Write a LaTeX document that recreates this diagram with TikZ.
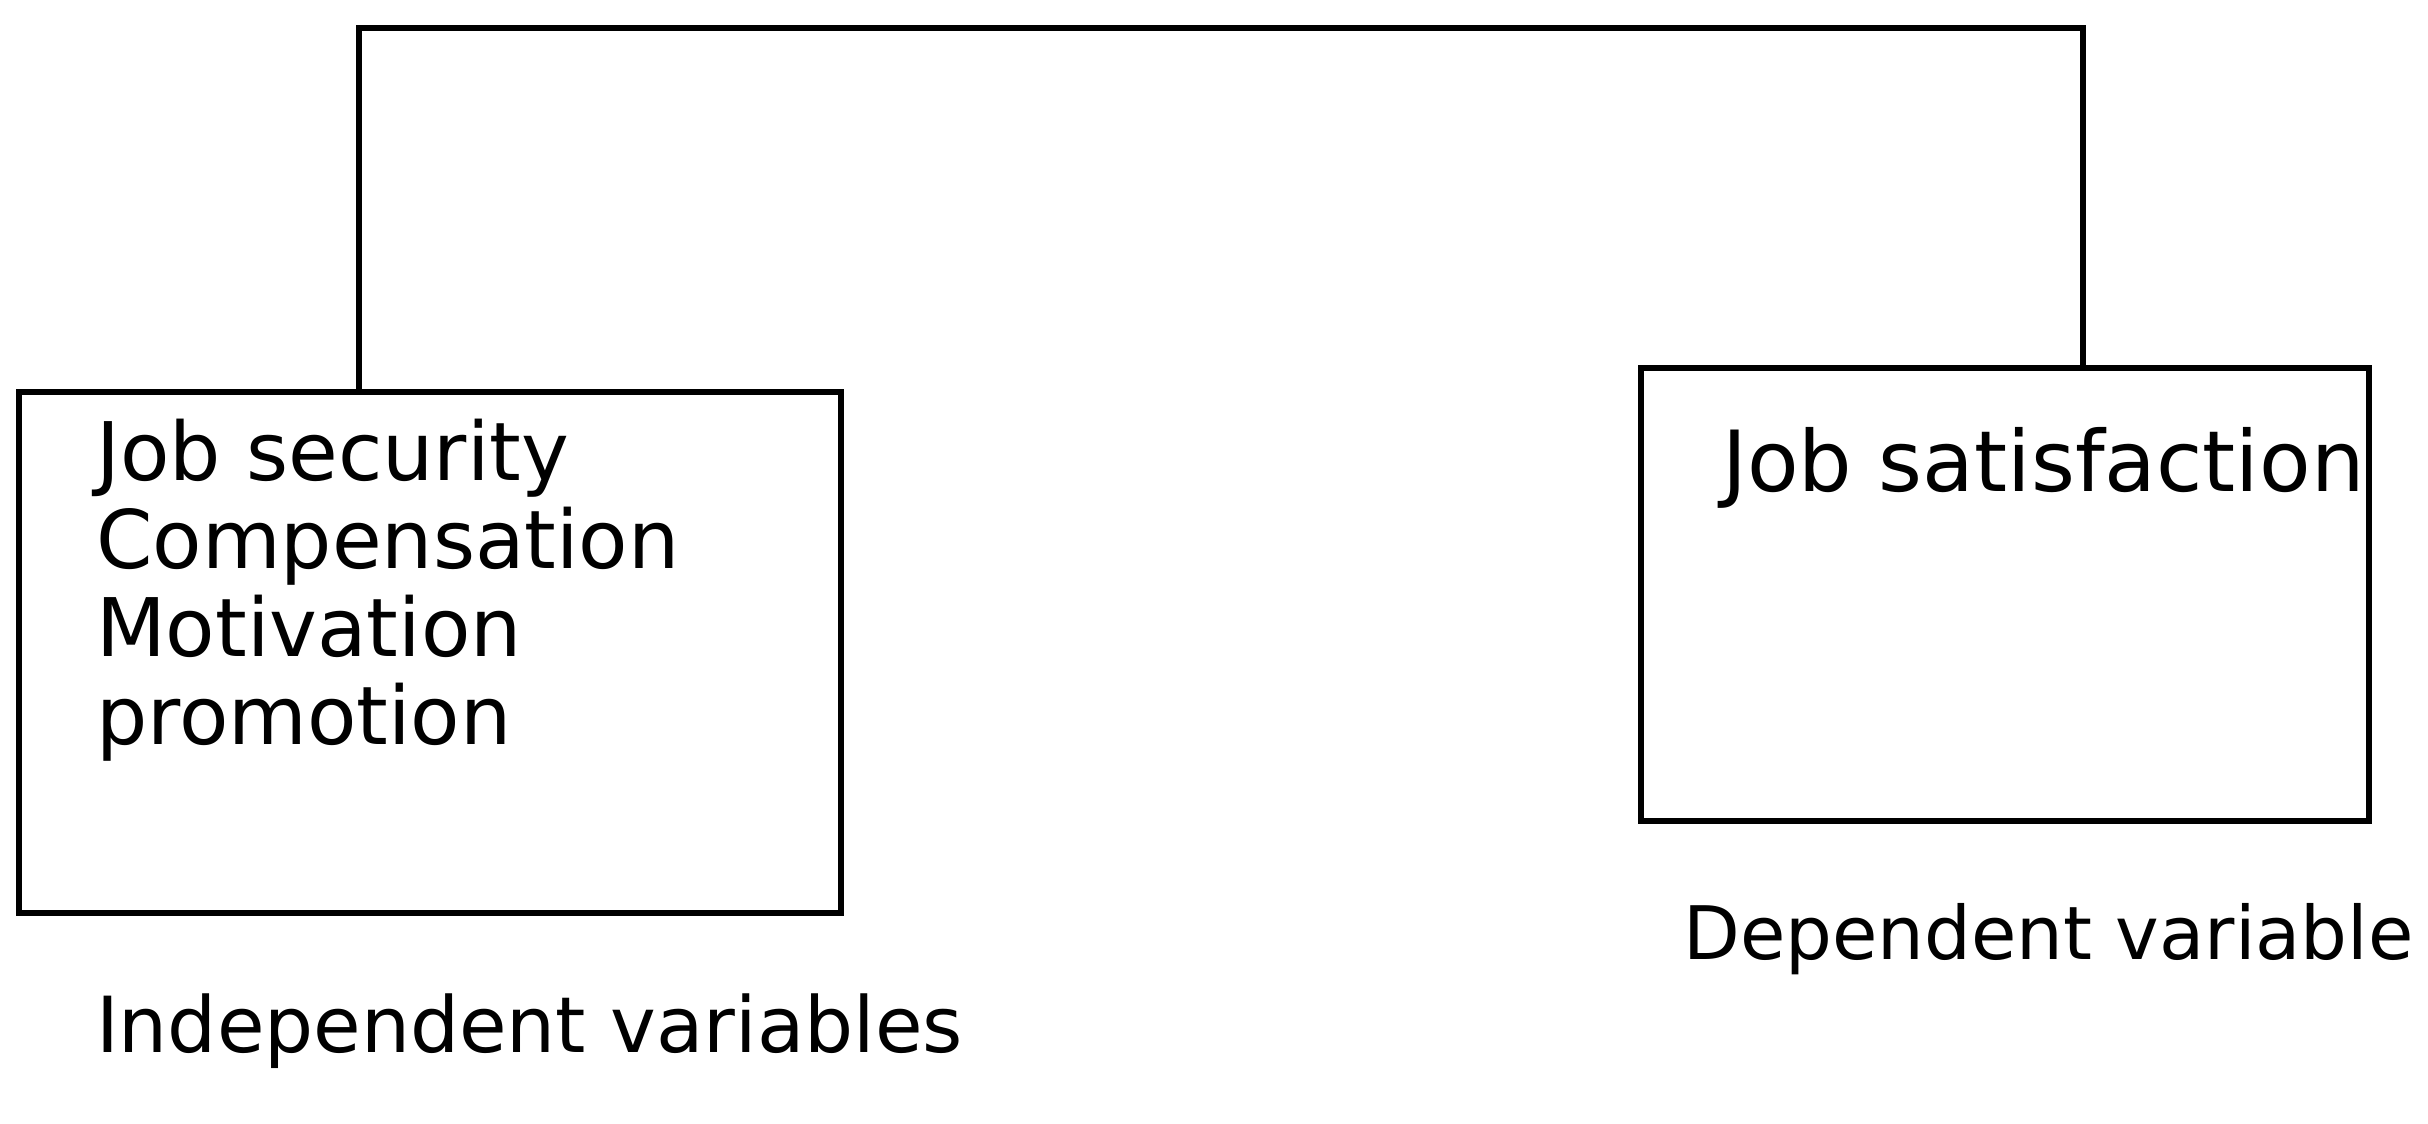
\documentclass[tikz,border=0pt]{standalone}
\usepackage{fontspec}
\setmainfont{DejaVu Sans}
\begin{document}
\begin{tikzpicture}[
    line width=1.8pt,
    every node/.style={inner sep=0pt},
    varbox/.style={draw, rectangle, line width=1.8pt},
    boxtext/.style={font=\fontsize{23}{25}\selectfont, align=left},
    caption/.style={font=\fontsize{22}{26}\selectfont},
  ]
    \useasboundingbox (0,0) rectangle (24.28,11.24);
    %% Boxes
    \node[varbox, minimum width=8.22cm, minimum height=5.21cm] (indep) at (4.30,4.715) {};
    \node[varbox, minimum width=7.28cm, minimum height=4.53cm] (dep) at (20.05,5.295) {};
    %% Box texts
    \node[boxtext, anchor=north west] (indeplist) at (0.93,7.08)
      {Job security\\Compensation\\Motivation\\promotion};
    \node[boxtext, font=\fontsize{24}{26}\selectfont, anchor=base west] (deptext) at (17.19,6.32)
      {Job satisfaction};
    %% Captions
    \node[caption, anchor=base west] (indepcap) at (0.93,0.71) {Independent variables};
    \node[caption, font=\fontsize{21}{25}\selectfont, anchor=base west] (depcap) at (16.80,1.64) {Dependent variable};
    %% Top connector
    \coordinate (topleft) at (3.59,10.96);
    \coordinate (topright) at (20.83,10.96);
    \draw (topleft |- indep.north) -- (topleft) -- (topright) -- (topright |- dep.north);
  \end{tikzpicture}
\end{document}
